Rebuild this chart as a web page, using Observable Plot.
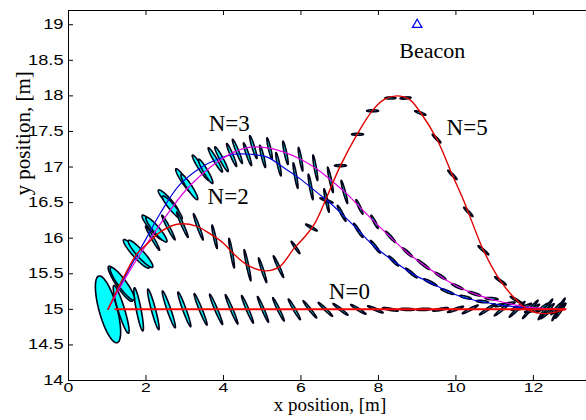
<!DOCTYPE html>
<html><head><meta charset="utf-8">
<script src="https://cdn.jsdelivr.net/npm/d3@7"></script>
<script src="https://cdn.jsdelivr.net/npm/@observablehq/plot@0.6"></script>
<style>
html,body{margin:0;padding:0;background:#fff;overflow:hidden}
#chart{width:592px}
</style></head><body><div id="chart"></div>
<script>
// ---- axis ticks ----
const xTicks = [0, 2, 4, 6, 8, 10, 12];
const xTickLabels = ["0", "2", "4", "6", "8", "10", "12"];
const yTicks = [14, 14.5, 15, 15.5, 16, 16.5, 17, 17.5, 18, 18.5, 19];
const yTickLabels = ["14", "14.5", "15", "15.5", "16", "16.5", "17", "17.5", "18", "18.5", "19"];

// ---- trajectories ----
const n0X = [1.21, 12.83];
const n0Y = [15.0, 15.0];

const n2X = [1.02, 1.5, 1.99, 2.37, 2.85, 3.41, 3.84, 4.27, 4.70, 5.13, 5.56, 5.99, 6.42, 6.68, 7.02, 7.45, 7.88, 8.39, 8.91, 9.43, 9.81, 10.12, 10.63, 11.32, 12.01, 12.83];
const n2Y = [15.0, 15.5, 15.98, 16.35, 16.74, 16.99, 17.11, 17.18, 17.18, 17.14, 16.99, 16.83, 16.64, 16.53, 16.36, 16.13, 15.89, 15.68, 15.49, 15.35, 15.25, 15.18, 15.11, 15.05, 15.01, 15.0];

const n3X = [1.02, 1.6, 2.12, 2.5, 3.02, 3.49, 3.84, 4.27, 4.70, 5.13, 5.56, 5.99, 6.42, 6.72, 7.19, 7.62, 8.22, 8.74, 9.26, 9.81, 10.12, 10.63, 11.15, 11.75, 12.83];
const n3Y = [15.0, 15.56, 16.0, 16.3, 16.67, 16.92, 17.07, 17.21, 17.28, 17.27, 17.21, 17.11, 16.97, 16.84, 16.62, 16.38, 16.06, 15.80, 15.59, 15.39, 15.30, 15.19, 15.11, 15.04, 15.0];

const n5X = [1.02, 1.28, 1.51, 1.75, 2.03, 2.4, 2.85, 3.3, 3.66, 4.0, 4.26, 4.62, 5.08, 5.45, 5.81, 6.1, 6.37, 6.63, 7.02, 7.45, 7.84, 8.15, 8.48, 8.8, 9.08, 9.51, 9.9, 10.2, 10.72, 11.15, 11.58, 11.84, 12.26, 12.55, 12.82];
const n5Y = [15.0, 15.3, 15.54, 15.77, 15.92, 16.1, 16.2, 16.17, 16.06, 15.93, 15.78, 15.62, 15.54, 15.6, 15.85, 16.02, 16.22, 16.53, 17.02, 17.46, 17.79, 17.95, 18.0, 17.95, 17.77, 17.39, 16.9, 16.53, 15.82, 15.4, 15.12, 15.0, 14.94, 14.96, 15.0];

// ---- uncertainty ellipses: centre (m), semi-axes (display units), tilt (deg from vertical) ----
const bigX = [1.02], bigY = [15.0], bigA = [34.6], bigB = [9], bigAng = [15.4];

const e0X = [1.36, 1.81, 2.19, 2.59, 2.99, 3.41, 3.81, 4.21, 4.62, 5.02, 5.42, 5.83, 6.23, 6.63, 7.02, 7.48, 7.92, 8.31, 8.74, 9.17, 9.60, 9.99, 10.37, 10.81, 11.19, 11.58, 11.92, 12.31, 12.65];
const e0Y = [15, 15, 15, 15, 15, 15, 15, 15, 15, 15, 15, 15, 15, 15, 15, 15, 15, 15, 15, 15, 15, 15, 15, 15, 15, 15, 15, 15, 15];
const e0A = [25, 22, 21, 19.5, 18.5, 17, 16.5, 16, 15, 14, 13, 12, 11, 10, 9.5, 9, 8.5, 8, 7.5, 7.5, 8, 8.5, 9, 9.5, 10, 11, 12, 12.5, 13];
const e0B = [3.3, 2.4, 2.1, 1.9, 1.7, 1.5, 1.4, 1.3, 1.3, 1.2, 1.2, 1.2, 1.1, 1.1, 1.1, 1.1, 1.1, 1.1, 1.1, 1.1, 1.1, 1.1, 1.1, 1.1, 1.1, 1.1, 1.1, 1.1, 1.1];
const e0Ang = [17, 11, 15, 19, 20, 22, 23, 23, 23, 23, 26, 30, 38, 46, 52, 58, 66, 80, 88, 92, 100, 110, 118, 125, 130, 135, 140, 145, 150];

const e2X = [1.34, 1.75, 2.17, 2.58, 2.99, 3.41, 3.79, 4.21, 4.62, 5.01, 5.42, 5.86, 6.25, 6.66, 7.05, 7.48, 7.92, 8.39, 8.85, 9.34, 9.78, 10.25, 10.68, 11.15, 11.59, 12.0, 12.39, 12.70];
const e2Y = [15.36, 15.78, 16.15, 16.52, 16.80, 16.99, 17.10, 17.17, 17.18, 17.15, 17.04, 16.88, 16.72, 16.53, 16.35, 16.11, 15.88, 15.68, 15.51, 15.38, 15.25, 15.17, 15.11, 15.06, 15.03, 15.01, 15.0, 15.0];
const e2A = [21, 19, 16, 15, 15, 15, 14, 12.5, 12, 11.5, 12, 13, 13, 12, 9, 8.5, 8, 7, 7.5, 7.5, 7, 6, 6, 6.5, 7, 7.5, 8, 8];
const e2B = [4.2, 3.6, 3.2, 3.0, 2.6, 2.2, 1.8, 1.4, 1.3, 1.2, 1.2, 1.1, 1.1, 1.1, 1.1, 1.1, 1.1, 1.1, 1.1, 1.1, 1.1, 1.1, 1.1, 1.1, 1.1, 1.1, 1.1, 1.1];
const e2Ang = [34, 42, 40, 42, 34, 33, 30, 23, 19, 14, 12, 10, 10, 12, 28, 33, 38, 45, 50, 63, 68, 75, 85, 100, 115, 125, 135, 140];

const e3X = [1.39, 1.86, 2.27, 2.68, 3.12, 3.54, 3.95, 4.36, 4.77, 5.19, 5.60, 5.99, 6.37, 6.76, 7.12, 7.51, 7.90, 8.31, 8.75, 9.16, 9.60, 10.04, 10.48, 10.92, 11.35, 11.79, 12.23, 12.59];
const e3Y = [15.36, 15.78, 16.12, 16.43, 16.72, 16.94, 17.11, 17.22, 17.28, 17.26, 17.20, 17.11, 16.99, 16.82, 16.65, 16.44, 16.23, 16.02, 15.80, 15.63, 15.47, 15.32, 15.22, 15.15, 15.08, 15.04, 15.02, 15.01];
const e3A = [20, 18, 16, 15, 15, 14, 14, 13, 12, 11, 12, 12, 13, 13, 12, 8, 7.5, 7.5, 6.7, 8, 6.5, 6.5, 6.5, 6.5, 7, 7, 7.5, 8];
const e3B = [4.2, 3.6, 3.2, 3.0, 2.6, 2.2, 1.8, 1.4, 1.3, 1.2, 1.2, 1.1, 1.1, 1.1, 1.1, 1.1, 1.1, 1.1, 1.1, 1.1, 1.1, 1.1, 1.1, 1.1, 1.1, 1.1, 1.1, 1.1];
const e3Ang = [36, 42, 40, 40, 33, 30, 28, 22, 17, 13, 12, 10, 10, 12, 15, 25, 28, 42, 48, 52, 58, 65, 72, 85, 100, 115, 128, 138];

const e5X = [2.17, 2.58, 2.94, 3.35, 3.77, 4.21, 4.62, 5.01, 5.42, 5.86, 6.27, 6.66, 7.02, 7.46, 7.85, 8.31, 8.70, 9.08, 9.50, 9.91, 10.32, 10.71, 11.15, 11.56, 11.95, 12.34, 12.70];
const e5Y = [16.0, 16.15, 16.19, 16.16, 16.02, 15.79, 15.62, 15.55, 15.6, 15.87, 16.15, 16.53, 17.02, 17.46, 17.79, 17.97, 17.97, 17.76, 17.40, 16.89, 16.37, 15.83, 15.40, 15.13, 14.98, 14.94, 14.98];
const e5A = [14, 14, 14, 14, 12, 15, 16, 13, 12, 7.5, 6.7, 7, 6, 6, 6, 5.5, 5.5, 6, 6, 6.5, 6.5, 7, 7, 7, 7, 8, 9];
const e5B = [1.3, 1.3, 1.2, 1.2, 1.1, 1.1, 1.1, 1.1, 1.1, 1.0, 1.0, 1.0, 1.0, 1.0, 1.0, 1.0, 1.0, 1.0, 1.0, 1.0, 1.0, 1.0, 1.0, 1.0, 1.0, 1.0, 1.0];
const e5Ang = [30, 28, 24, 20, 12, 10, 12, 18, 25, 35, 60, 70, 90, 90, 90, 90, 95, 70, 45, 45, 45, 50, 55, 60, 100, 130, 145];

// ---- annotations ----
const labX = [4.15, 4.12, 10.29, 7.25];
const labY = [17.61, 16.59, 17.55, 15.25];
const labText = ["N=3", "N=2", "N=5", "N=0"];
const beaconX = [9.0], beaconY = [19.0];
const beaconLabX = [9.39], beaconLabY = [18.63], beaconText = ["Beacon"];

// ---- layout ----
const W = 592, H = 420, ML = 68, MR = 1, MT = 10, MB = 40;
const xDom = [0, 13.5], yDom = [14, 19.2];
const kx = (W - ML - MR) / (xDom[1] - xDom[0]);
const ky = (H - MT - MB) / (yDom[1] - yDom[0]);
const TICK = 5;

const pts = (xs, ys) => xs.map((x, i) => ({x, y: ys[i]}));

function ellipseRows(tag, xs, ys, as, bs, angs) {
  const rows = [];
  const N = 48;
  xs.forEach((cx, i) => {
    const th = angs[i] * Math.PI / 180, s = Math.sin(th), c = Math.cos(th);
    for (let j = 0; j < N; j++) {
      const t = j / N * 2 * Math.PI;
      const u = as[i] * Math.cos(t), v = bs[i] * Math.sin(t);
      const dxp = u * s + v * c, dyp = u * c - v * s;
      rows.push({id: tag + i, x: cx + dxp / kx, y: ys[i] - dyp / ky});
    }
  });
  return rows;
}

const ellStyle = {x: "x", y: "y", z: "id", curve: "linear-closed", fill: "#00ffff", stroke: "#000018", strokeWidth: 1.6};
const sans = "Liberation Sans, Arial, Helvetica, sans-serif";
const serif = "Liberation Serif, Times New Roman, serif";
const plotW = W - ML - MR, plotH = H - MT - MB;

const plot = Plot.plot({
  width: W, height: H, marginLeft: ML, marginRight: MR, marginTop: MT, marginBottom: MB,
  x: {domain: xDom}, y: {domain: yDom},
  style: "max-width:none;background:white;overflow:visible;",
  marks: [
    Plot.line(ellipseRows("b", bigX, bigY, bigA, bigB, bigAng), ellStyle),
    Plot.line(ellipseRows("e0", e0X, e0Y, e0A, e0B, e0Ang), ellStyle),
    Plot.line(ellipseRows("e2", e2X, e2Y, e2A, e2B, e2Ang), ellStyle),
    Plot.line(ellipseRows("e3", e3X, e3Y, e3A, e3B, e3Ang), ellStyle),
    Plot.line(ellipseRows("e5", e5X, e5Y, e5A, e5B, e5Ang), ellStyle),
    Plot.line(pts(n2X, n2Y), {x: "x", y: "y", stroke: "#0000e0", strokeWidth: 1.2, curve: "catmull-rom"}),
    Plot.line(pts(n3X, n3Y), {x: "x", y: "y", stroke: "#e000e0", strokeWidth: 1.2, curve: "catmull-rom"}),
    Plot.line(pts(n5X, n5Y), {x: "x", y: "y", stroke: "#e00000", strokeWidth: 1.4, curve: "catmull-rom"}),
    Plot.line(pts(n0X, n0Y), {x: "x", y: "y", stroke: "#ff0000", strokeWidth: 2}),
    Plot.dot(pts(beaconX, beaconY), {x: "x", y: "y", symbol: "triangle", r: 3.5, stroke: "#0000ff", fill: "none", strokeWidth: 1.3}),
    Plot.text(labText.map((t, i) => ({t, x: labX[i], y: labY[i]})), {x: "x", y: "y", text: "t", fontFamily: serif, fontSize: 23, fill: "black", ariaLabel: "nlabels"}),
    Plot.text(beaconText.map((t, i) => ({t, x: beaconLabX[i], y: beaconLabY[i]})), {x: "x", y: "y", text: "t", fontFamily: serif, fontSize: 22, fill: "black"}),
    Plot.frame({stroke: "black", strokeWidth: 1}),
    // inward tick marks on all four sides
    Plot.tickX(xTicks, {x: d => d, insetTop: plotH - TICK, stroke: "black", strokeWidth: 1}),
    Plot.tickX(xTicks, {x: d => d, insetBottom: plotH - TICK, stroke: "black", strokeWidth: 1}),
    Plot.tickY(yTicks, {y: d => d, insetRight: plotW - TICK, stroke: "black", strokeWidth: 1}),
    Plot.tickY(yTicks, {y: d => d, insetLeft: plotW - TICK, stroke: "black", strokeWidth: 1}),
    // tick labels
    Plot.axisX(xTicks, {anchor: "bottom", tickSize: 0, tickPadding: 2, tickFormat: (d) => xTickLabels[xTicks.indexOf(d)], fontFamily: sans, fontSize: 13.5, fill: "black", label: null}),
    Plot.axisY(yTicks, {anchor: "left", tickSize: 0, tickPadding: 5, tickFormat: (d) => yTickLabels[yTicks.indexOf(d)], fontFamily: sans, fontSize: 14, fill: "black", label: null}),
    // axis titles
    Plot.text(["x position, [m]"], {frameAnchor: "bottom", dy: 30, text: d => d, fontFamily: serif, fontSize: 19, fill: "black"}),
    Plot.text(["y position, [m]"], {frameAnchor: "left", dx: -45, rotate: -90, text: d => d, fontFamily: serif, fontSize: 21, fill: "black"})
  ]
});

document.getElementById("chart").append(plot);

function stretch(sel, f) {
  plot.querySelectorAll(sel).forEach(t => {
    if (!t.textContent) return;
    const L = t.getComputedTextLength();
    if (L > 0) { t.setAttribute("textLength", (L * f).toFixed(1)); t.setAttribute("lengthAdjust", "spacingAndGlyphs"); }
  });
}
stretch('g[aria-label="x-axis tick label"] text', 1.3);
stretch('g[aria-label="y-axis tick label"] text', 1.3);
stretch('g[aria-label="nlabels"] text', 1.12);
stretch('g[aria-label="text"] text', 1.0);
</script>
</body></html>
